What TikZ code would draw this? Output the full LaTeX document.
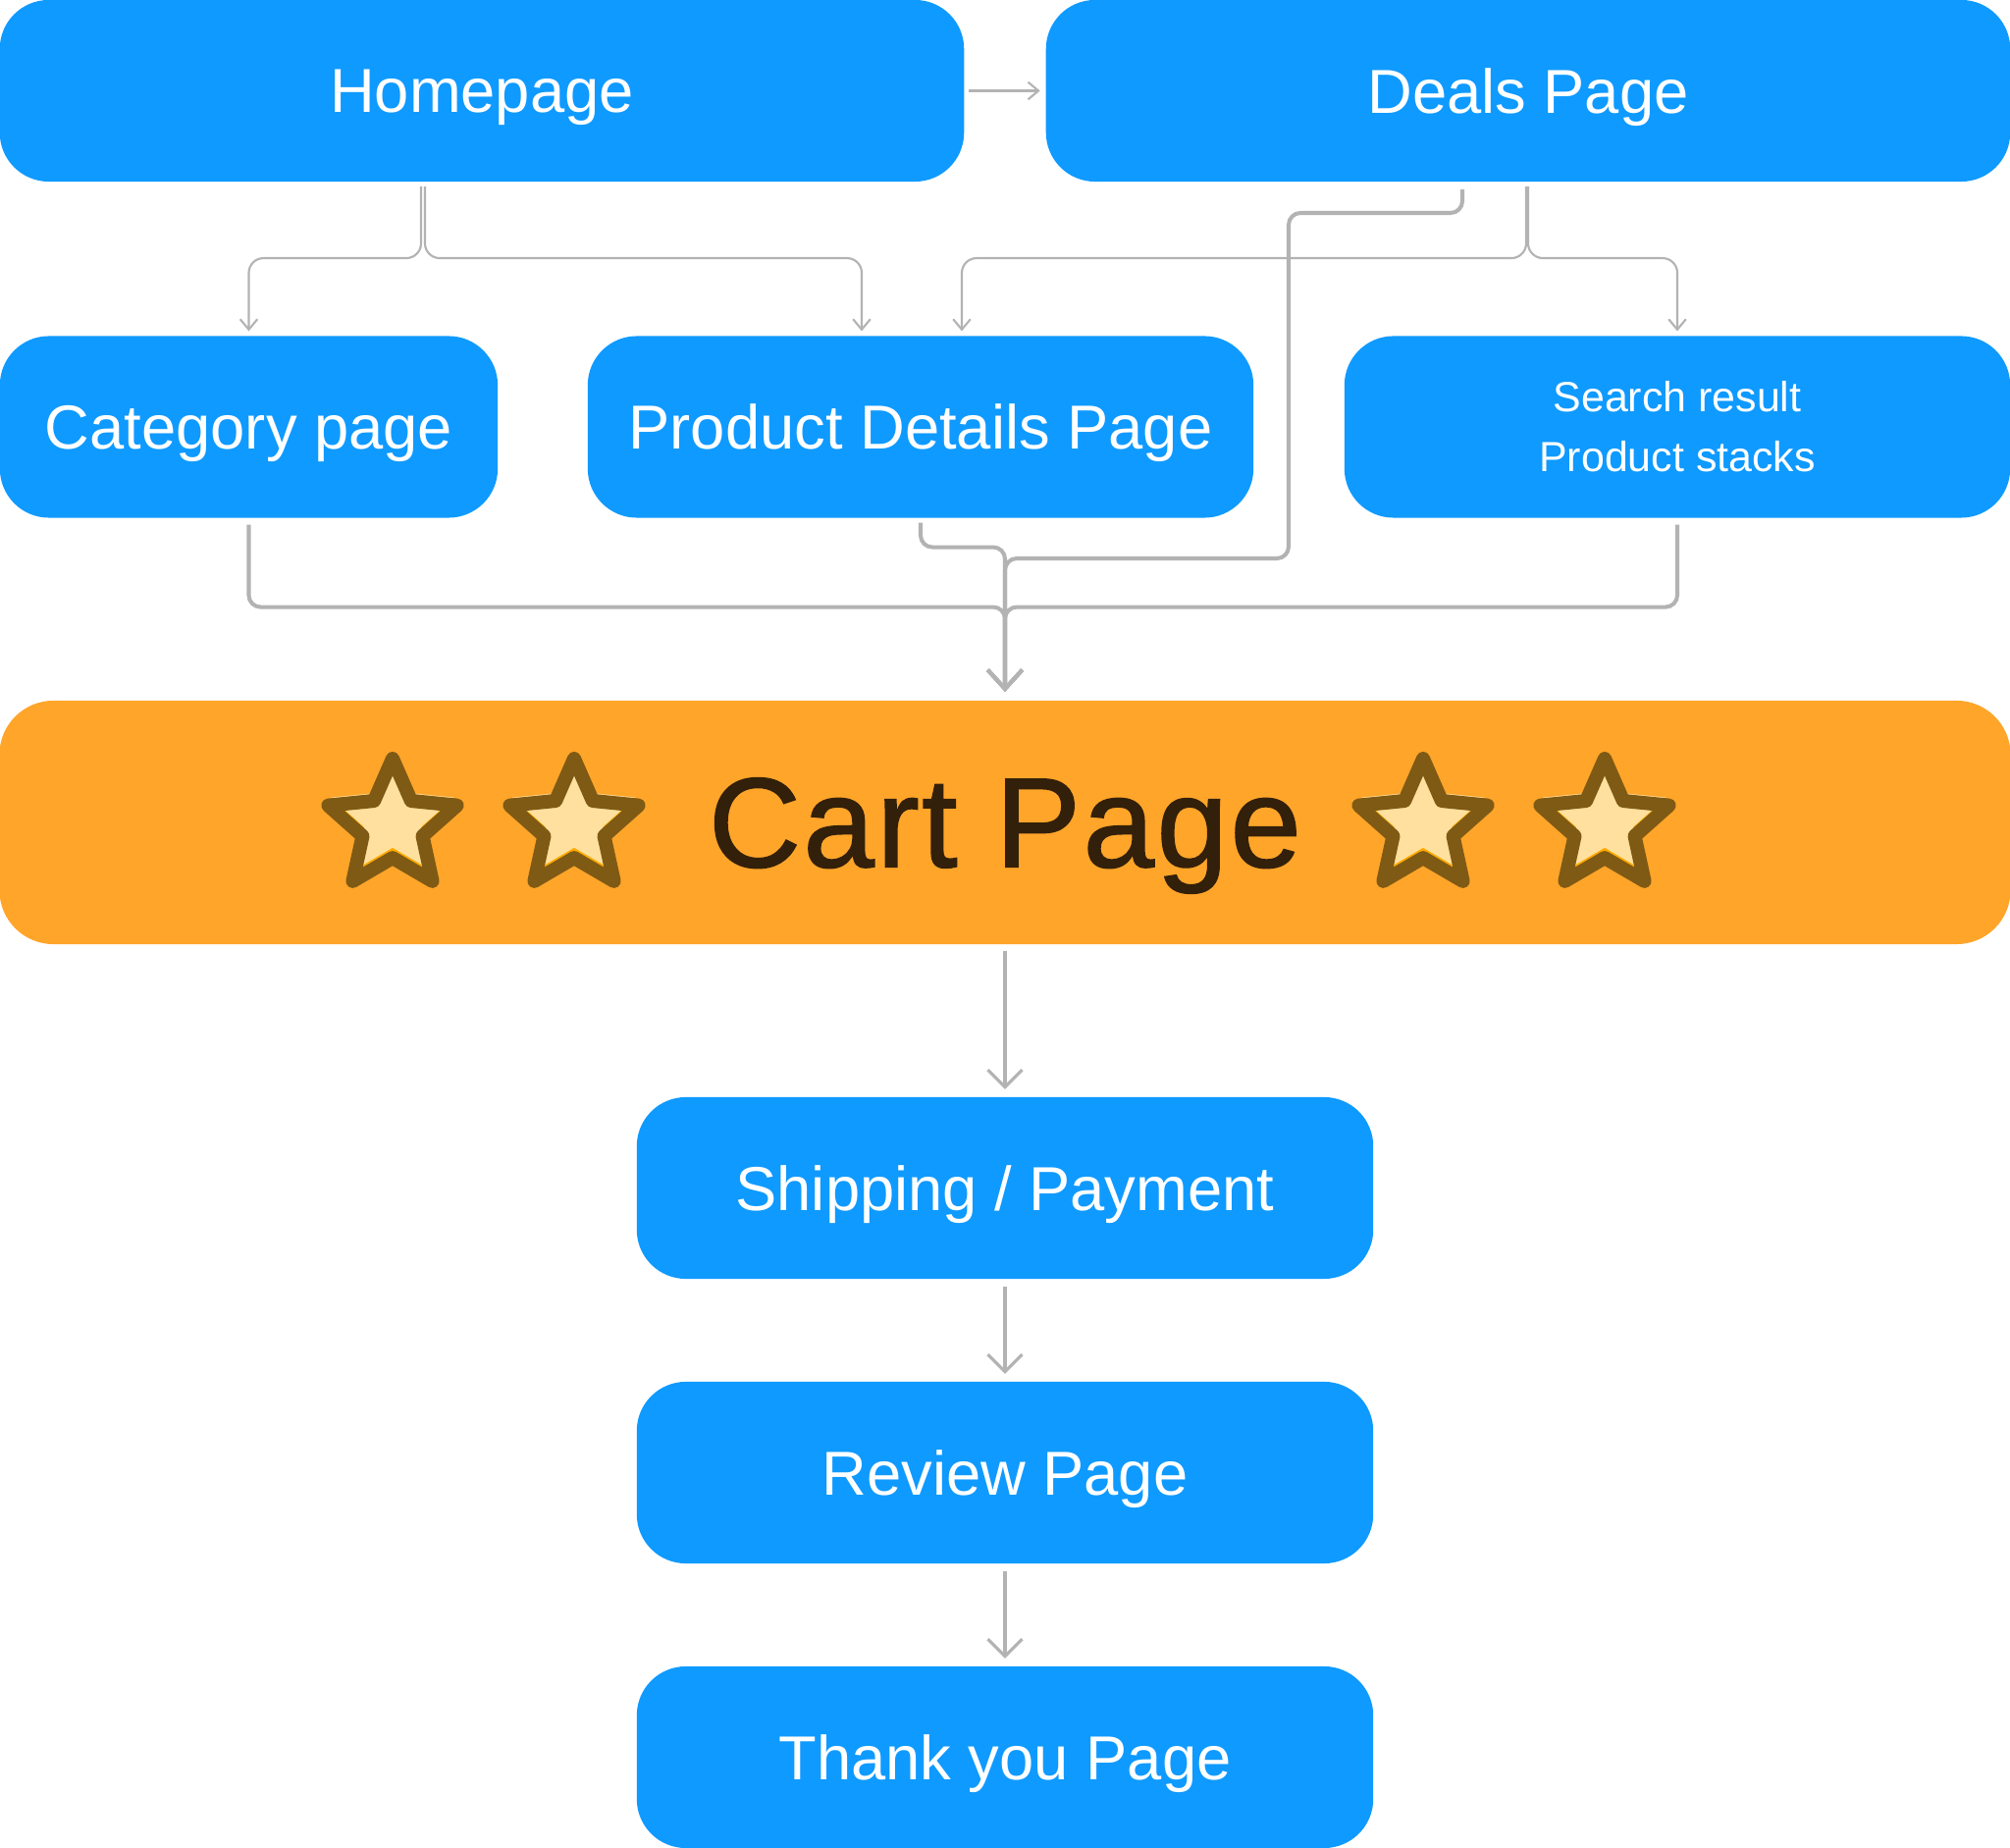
\documentclass[tikz,border=0pt]{standalone}
\usepackage{fontspec}
\setmainfont{Liberation Sans}
\usetikzlibrary{calc,arrows.meta,shapes.geometric}
\definecolor{pageblue}{HTML}{0F9AFF}
\definecolor{cartorange}{HTML}{FFA52A}
\definecolor{carttext}{HTML}{33200A}
\definecolor{linkgray}{HTML}{B3B3B3}
\definecolor{starrim}{HTML}{7F5A14}
\definecolor{starface}{HTML}{FFE09E}
\definecolor{starshade}{HTML}{FFAA00}
\tikzstyle{box node}  = [rectangle,rounded corners=0.5cm,fill=pageblue,text=white,inner sep=0,outer sep=0,
                         minimum height=1.85cm,font=\fontsize{18}{22}\selectfont]
\tikzstyle{page node} = [box node,text depth=0pt]
\tikzstyle{thin link}  = [draw=linkgray,line width=0.6pt,rounded corners=0.15cm,-{Straight Barb[length=3pt,width=5pt]}]
\tikzstyle{thick link} = [draw=linkgray,line width=1.15pt,rounded corners=0.12cm,-{Straight Barb[length=5.5pt,width=10pt]}]
\tikzstyle{down link}  = [draw=linkgray,line width=0.9pt,-{Straight Barb[length=5pt,width=10pt]}]

\begin{document}
\begin{tikzpicture}[x=0.01cm,y=-0.01cm,
                    star base/.style={star,star points=5,star point ratio=2.15,inner sep=0,minimum size=1.38cm},
                    star shade/.style={star base,fill=starshade},
                    star top/.style={star base,fill=starface,minimum size=1.32cm},
                    star rim/.style={star base,draw=starrim,line width=4pt,line join=round}
                    ]
\useasboundingbox (0,0) rectangle (2048,1883);

    % pages
    \node[page node,minimum width=9.82cm] (home)  at (491,92.5)  {Homepage};
    \node[page node,minimum width=9.82cm] (deals) at (1557,92.5) {Deals Page};
    \node[page node,minimum width=5.07cm] (cat)    at (253.5,435) {Category page};
    \node[page node,minimum width=6.78cm] (pdp)    at (938,435)   {Product Details Page};
    \node[box node,minimum width=6.78cm,align=center,font=\fontsize{12.2}{17.4}\selectfont]
          (search) at (1709,435) {Search result\\Product stacks};
    \node[page node,minimum width=20.48cm,minimum height=2.48cm,fill=cartorange,text=carttext,
          rounded corners=0.55cm,font=\fontsize{37}{40}\selectfont\addfontfeature{FakeBold=1.2,LetterSpace=2}] (cart) at (1024,838) {Cart Page};
    \node[page node,minimum width=7.5cm] (ship)   at (1024,1210.5) {Shipping / Payment};
    \node[page node,minimum width=7.5cm] (review) at (1024,1500.5) {Review Page};
    \node[page node,minimum width=7.5cm] (thanks) at (1024,1790.5) {Thank you Page};

    % stars
    \foreach \sx [count=\i] in {-624,-439,426,611}{
        \node[star shade] (sb\i) at ($(cart.center)+(\sx,4)$) {};
        \node[star top]   (sf\i) at ($(sb\i)+(0,-9)$) {};
        \node[star rim]   (sr\i) at (sb\i) {};
    }

    % top row
    \draw[thin link] ($(home.east)+(5,0)$) -- ($(deals.west)+(-6,0)$);
    \draw[thin link] ($(home.south)+(-62,5)$) -- ++(0,73) -| ($(cat.north)+(0,-5)$);
    \draw[thin link] ($(home.south)+(-58,5)$) -- ++(0,73) -| ($(pdp.north)+(-60,-5)$);
    \draw[thin link] ($(deals.south)+(-2,5)$) -- ++(0,73) -| ($(pdp.north)+(42,-5)$);
    \draw[thin link] ($(deals.south)+(0,5)$) -- ++(0,73) -| ($(search.north)+(0,-5)$);

    % into the cart
    \draw[thick link] ($(cat.south)+(0,7)$) -- ++(0,84) -| ($(cart.north)+(0,-9)$);
    \draw[thick link] ($(search.south)+(0,7)$) -- ++(0,84) -| ($(cart.north)+(0,-9)$);
    \draw[thick link] ($(pdp.south)+(0,5)$) -- ++(0,25) -| ($(cart.north)+(0,-9)$);
    \draw[thick link] ($(deals.south)+(-67,8)$) |- (1313,217) |- (1024,569) -- ($(cart.north)+(0,-9)$);

    % checkout
    \draw[down link] ($(cart.south)+(0,7)$) -- ($(ship.north)+(0,-8)$);
    \draw[down link] ($(ship.south)+(0,8)$) -- ($(review.north)+(0,-8)$);
    \draw[down link] ($(review.south)+(0,8)$) -- ($(thanks.north)+(0,-8)$);

\end{tikzpicture}
\end{document}
